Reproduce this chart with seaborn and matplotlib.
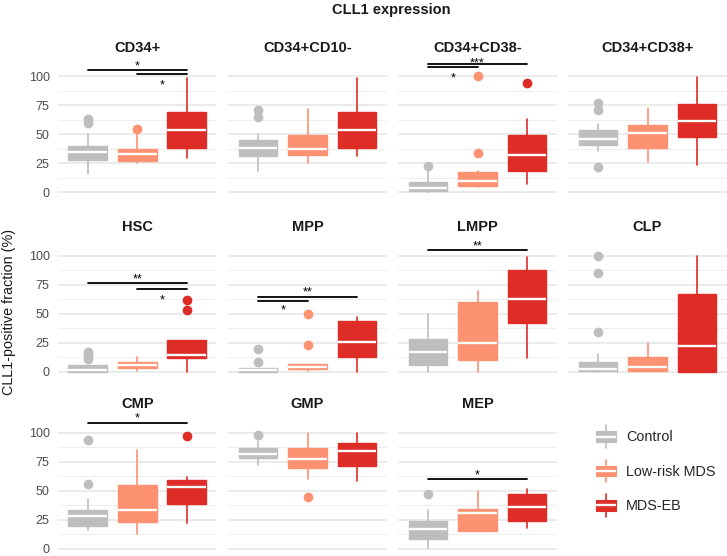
import matplotlib
matplotlib.use("Agg")
import matplotlib.pyplot as plt
from matplotlib.patches import Patch, Rectangle
from matplotlib.lines import Line2D
from matplotlib.legend_handler import HandlerBase
import seaborn as sns

# Paneles y grupos
panels = ["CD34+", "CD34+CD10-", "CD34+CD38-", "CD34+CD38+",
          "HSC", "MPP", "LMPP", "CLP",
          "CMP", "GMP", "MEP"]
groups = ["Control", "Low-risk MDS", "MDS-EB"]
colors = ["#bebebe", "#fc9272", "#de2d26"]

# Resumen de cajas (mín. bigote, Q1, mediana, Q3, máx. bigote, atípicos)
ctrl_lo = [16, 18, 0, 36, 0, 0, 0, 0, 16, 72, 1]
ctrl_q1 = [28, 31, 1, 41, 0, 0, 6, 0.5, 20, 78, 8]
ctrl_med = [35, 38, 3.5, 46, 1.5, 1.5, 17, 2.3, 28, 82, 17]
ctrl_q3 = [40, 45, 8.5, 54, 5.5, 3.5, 28, 8, 33, 86.5, 24]
ctrl_hi = [50, 50, 18, 59, 5.5, 3.5, 50, 15.5, 43, 93, 33]
ctrl_out = [[60, 63], [65, 71], [23], [22, 71, 77], [11, 14, 17], [8, 20], [],
            [34, 85, 100], [56, 94], [98], [47]]

low_lo = [25, 25.5, 5, 26, 1, 1, 0, 0, 13, 60, 15]
low_q1 = [27, 32, 5.7, 38, 3.2, 2, 10, 1, 23.3, 69.3, 15]
low_med = [33, 37, 9.7, 51, 5.7, 4.3, 25, 4, 33, 77.6, 31]
low_q3 = [37, 49, 17.5, 58, 8.3, 6.3, 60, 13, 54.6, 86.5, 34.2]
low_hi = [49, 72, 18, 73, 12.4, 6.3, 70, 25, 85, 100, 50]
low_out = [[55], [], [34, 100], [], [], [23, 50], [], [], [], [45], []]

eb_lo = [29.5, 31, 7, 23.5, 0, 0, 12, 0, 22.4, 58.6, 17.8]
eb_q1 = [38.4, 38.4, 18, 48, 11.5, 12.4, 41.7, 0, 38.5, 71.3, 24]
eb_med = [54, 54, 32, 61.6, 14, 26, 63, 22.4, 53, 84, 36]
eb_q3 = [69.6, 69.6, 49, 76, 27.3, 44, 87.4, 67, 59.5, 91.4, 47.4]
eb_hi = [98.3, 98.3, 63.6, 99, 27.3, 46.8, 99, 99.7, 61.8, 100, 51.7]
eb_out = [[], [], [94.6], [], [53, 62], [], [], [], [97], [], []]

# Comparaciones significativas: (panel, grupo1, grupo2, altura barra, etiqueta, x etiqueta, y etiqueta)
sig = [
    (0, 1, 3, 105.7, "*", 2.0, 111.7),
    (0, 2, 3, 102.0, "*", 2.5, 95.0),
    (2, 1, 3, 110.6, "***", 2.0, 114.3),
    (2, 1, 2, 108.0, "*", 1.5, 100.8),
    (4, 1, 3, 76.7, "**", 2.0, 82.5),
    (4, 2, 3, 71.0, "*", 2.5, 64.7),
    (5, 1, 3, 64.7, "**", 2.0, 71.0),
    (5, 1, 2, 60.6, "*", 1.5, 56.0),
    (6, 1, 3, 104.6, "**", 2.0, 111.0),
    (8, 1, 3, 108.6, "*", 2.0, 115.0),
    (10, 1, 3, 60.3, "*", 2.0, 66.0),
]

sns.set_theme(style="white")
plt.rcParams['font.family'] = ['Liberation Sans', 'DejaVu Sans']

W, H = 727, 556
fig = plt.figure(figsize=(W / 100, H / 100), dpi=100)

col_left = [58, 228.3, 398.3, 568.3]
row_top = [55.4, 234.8, 411.8]
pw, ph = 158.4, 141.0
ylim = (-3.5, 118)


def summary(lo, q1, med, q3, hi, out, i):
    return dict(whislo=lo[i], q1=q1[i], med=med[i], q3=q3[i], whishi=hi[i], fliers=out[i])


for i, name in enumerate(panels):
    r, c = divmod(i, 4)
    ax = fig.add_axes([col_left[c] / W, 1 - (row_top[r] + ph) / H, pw / W, ph / H])
    stats = [summary(ctrl_lo, ctrl_q1, ctrl_med, ctrl_q3, ctrl_hi, ctrl_out, i),
             summary(low_lo, low_q1, low_med, low_q3, low_hi, low_out, i),
             summary(eb_lo, eb_q1, eb_med, eb_q3, eb_hi, eb_out, i)]
    bp = ax.bxp(stats, positions=[1, 2, 3], widths=0.78, patch_artist=True,
                showcaps=False, showfliers=True)
    for k, col in enumerate(colors):
        bp['boxes'][k].set(facecolor=col, edgecolor=col, linewidth=1.0, zorder=3)
        bp['medians'][k].set(color="white", linewidth=1.7, zorder=4, solid_capstyle="butt")
        for w in bp['whiskers'][2 * k:2 * k + 2]:
            w.set(color=col, linewidth=1.2, zorder=2)
        bp['fliers'][k].set(marker="o", markerfacecolor=col, markeredgecolor=col,
                            markersize=6, zorder=3)

    for p, g1, g2, yb, lab, xl, yl in sig:
        if p != i:
            continue
        ax.plot([g1, g2], [yb, yb], color="black", lw=1.3, zorder=5, clip_on=False)
        ax.text(xl, yl - 5.5, lab, ha="center", va="baseline", fontsize=9, color="black")

    ax.set_xlim(0.4, 3.6)
    ax.set_ylim(*ylim)
    ax.set_yticks([0, 25, 50, 75, 100])
    ax.set_yticks([12.5, 37.5, 62.5, 87.5], minor=True)
    ax.set_xticks([])
    ax.grid(axis="y", which="major", color="#e6e6e6", lw=1.1, zorder=0)
    ax.grid(axis="y", which="minor", color="#eeeeee", lw=0.7, zorder=0)
    ax.grid(axis="x", visible=False)
    ax.set_axisbelow(True)
    sns.despine(ax=ax, left=True, bottom=True)
    ax.tick_params(axis="y", which="both", length=0, pad=6, labelsize=9, labelcolor="#4d4d4d")
    if c != 0:
        ax.set_yticklabels([])
    ax.set_title(name, fontsize=10.5, fontweight="bold", pad=2.5, color="#1a1a1a")


class BoxKey(HandlerBase):
    def create_artists(self, legend, orig, xd, yd, w, h, fs, trans):
        col = orig.get_facecolor()
        x0, y0 = -xd, -yd
        bh = h * 0.58
        cx = x0 + w / 2
        whisk = Line2D([cx, cx], [y0 - h * 0.1, y0 + h * 1.1], color=col, lw=1.2, transform=trans)
        box = Rectangle((x0, y0 + (h - bh) / 2), w, bh, facecolor=col, edgecolor=col, lw=0.8,
                        transform=trans)
        med = Line2D([x0 + 0.5, x0 + w - 0.5], [y0 + h / 2] * 2, color="white", lw=1.7,
                     transform=trans)
        return [whisk, box, med]


handles = [Patch(facecolor=col, label=g) for g, col in zip(groups, colors)]
fig.legend(handles=handles, handler_map={Patch: BoxKey()}, loc="center left",
           bbox_to_anchor=(583 / W, 1 - 471 / H), frameon=False, fontsize=10.4,
           handlelength=1.39, handleheight=1.6, labelspacing=1.1, handletextpad=0.7)

fig.text(391 / W, 1 - 10 / H, "CLL1 expression", ha="center", va="center",
         fontsize=10.5, fontweight="bold", color="#1a1a1a")
fig.text(9 / W, 1 - 312 / H, "CLL1-positive fraction (%)", rotation=90,
         ha="center", va="center", fontsize=10.4, color="#1a1a1a")

fig.savefig("out.png", dpi=100)
